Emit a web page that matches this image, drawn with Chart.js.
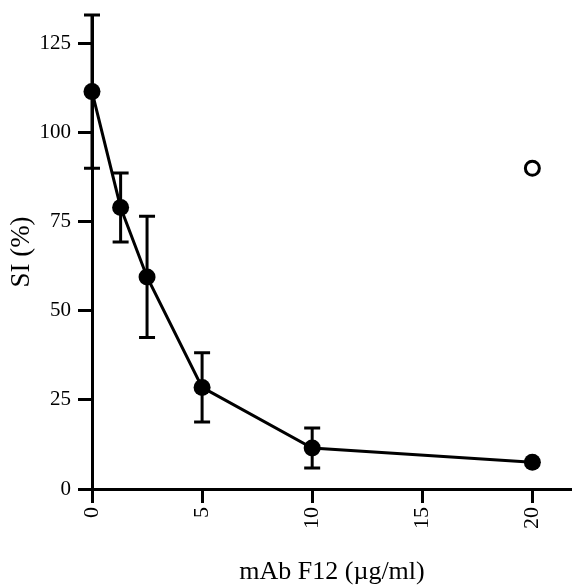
<!DOCTYPE html>
<html>
<head>
<meta charset="utf-8">
<script src="https://cdn.jsdelivr.net/npm/chart.js@4.4.1/dist/chart.umd.min.js"></script>
<style>
  html, body { margin: 0; padding: 0; background: #fff; }
  #wrap { width: 572px; height: 585px; }
</style>
</head>
<body>
<div id="wrap"><canvas id="chart"></canvas></div>
<script>
// mAb F12 concentration (ug/ml) and SI (%)
const concentrations = [0, 1.3, 2.5, 5, 10, 20];
const siMeans = [111.5, 79, 59.5, 28.5, 11.5, 7.5];
const siErrors = [21.5, 9.7, 17, 9.7, 5.6, 0];
// open circle (control)
const controlX = [20];
const controlY = [90];
const xTicks = [0, 5, 10, 15, 20];
const yTicks = [0, 25, 50, 75, 100, 125];

const serif = "'Liberation Serif', 'Times New Roman', serif";

// error bars drawn under the points, positioned with the chart scales
const errorBars = {
  id: 'errorBars',
  beforeDatasetsDraw(chart) {
    const ctx = chart.ctx;
    const xs = chart.scales.x, ys = chart.scales.y;
    ctx.save();
    ctx.strokeStyle = '#000';
    ctx.lineWidth = 3;
    concentrations.forEach((c, i) => {
      if (!siErrors[i]) return;
      const px = xs.getPixelForValue(c);
      const top = ys.getPixelForValue(siMeans[i] + siErrors[i]);
      const bot = ys.getPixelForValue(siMeans[i] - siErrors[i]);
      ctx.beginPath();
      ctx.moveTo(px, top); ctx.lineTo(px, bot);
      ctx.moveTo(px - 8, top); ctx.lineTo(px + 8, top);
      ctx.moveTo(px - 8, bot); ctx.lineTo(px + 8, bot);
      ctx.stroke();
    });
    ctx.restore();
  }
};

new Chart(document.getElementById('chart'), {
  type: 'scatter',
  data: {
    datasets: [{
      data: concentrations.map((c, i) => ({x: c, y: siMeans[i]})),
      showLine: true,
      borderColor: '#000',
      borderWidth: 3,
      backgroundColor: '#000',
      pointRadius: 8.5,
      pointBorderWidth: 0,
      tension: 0,
      clip: false
    }, {
      data: controlX.map((c, i) => ({x: c, y: controlY[i]})),
      borderColor: '#000',
      backgroundColor: '#fff',
      pointRadius: 7,
      pointBorderWidth: 3,
      clip: false
    }]
  },
  options: {
    responsive: true,
    maintainAspectRatio: false,
    animation: false,
    layout: { autoPadding: false, padding: { top: 15, right: 0, left: 0, bottom: 0 } },
    plugins: {
      legend: { display: false },
      tooltip: { enabled: false }
    },
    scales: {
      x: {
        type: 'linear',
        min: 0,
        max: 21.8,
        afterBuildTicks: (scale) => { scale.ticks = xTicks.map(v => ({value: v})); },
        afterFit: (scale) => {
          scale.height = 96;
          scale.paddingLeft = 0;
          scale.paddingRight = 0;
        },
        border: { display: true, color: '#000', width: 3 },
        grid: { drawOnChartArea: false, drawTicks: true, tickLength: 14, color: '#000', lineWidth: 3 },
        ticks: {
          color: '#000',
          font: { family: serif, size: 22 },
          minRotation: 90,
          maxRotation: 90,
          padding: 4
        },
        title: {
          display: true,
          text: 'mAb F12 (\u00b5g/ml)',
          color: '#000',
          font: { family: serif, size: 26, lineHeight: 1 },
          padding: { top: 0, bottom: 0 }
        }
      },
      y: {
        min: 0,
        max: 133,
        afterBuildTicks: (scale) => { scale.ticks = yTicks.map(v => ({value: v})); },
        afterFit: (scale) => {
          scale.width = 92;
          scale.paddingTop = 0;
          scale.paddingBottom = 0;
        },
        border: { display: true, color: '#000', width: 3 },
        grid: { drawOnChartArea: false, drawTicks: true, tickLength: 14, color: '#000', lineWidth: 3 },
        ticks: {
          color: '#000',
          font: { family: serif, size: 21 },
          padding: 7
        },
        title: {
          display: true,
          text: 'SI (%)',
          color: '#000',
          font: { family: serif, size: 27, lineHeight: 1 },
          padding: { top: 8, bottom: 0 }
        }
      }
    }
  },
  plugins: [errorBars]
});
</script>
</body>
</html>
